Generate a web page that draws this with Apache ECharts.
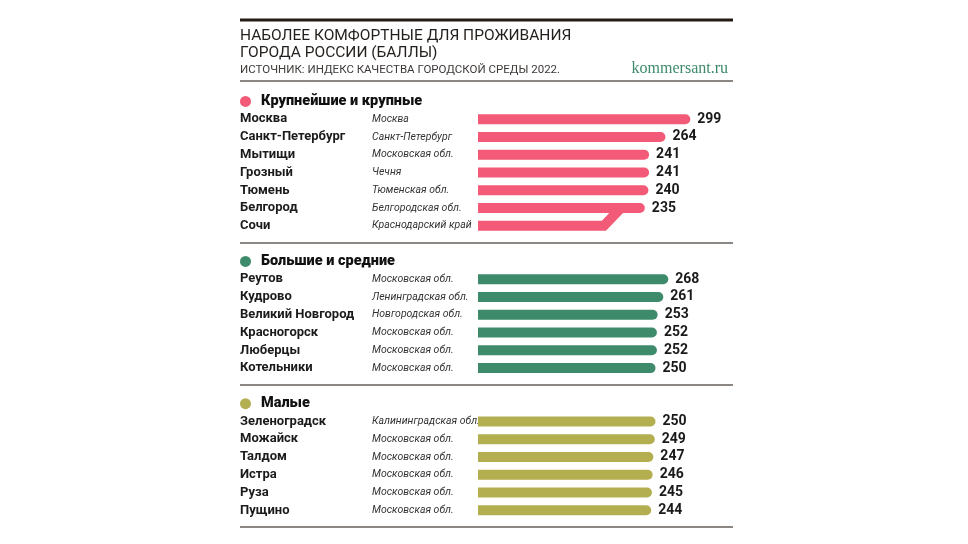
<!DOCTYPE html>
<html>
<head>
<meta charset="utf-8">
<script src="https://cdn.jsdelivr.net/npm/echarts@6/dist/echarts.min.js"></script>
<style>
  html, body { margin: 0; padding: 0; background: #fff; }
  #chart { width: 968px; height: 544px; }
</style>
</head>
<body>
<div id="chart"></div>
<script>
// группы городов
var groups = ['Крупнейшие и крупные', 'Большие и средние', 'Малые'];
var groupColors = ['#f25a77', '#3e8b6c', '#b3ae50'];

var cities1 = ['Москва', 'Санкт-Петербург', 'Мытищи', 'Грозный', 'Тюмень', 'Белгород', 'Сочи'];
var regions1 = ['Москва', 'Санкт-Петербург', 'Московская обл.', 'Чечня', 'Тюменская обл.', 'Белгородская обл.', 'Краснодарский край'];
var values1 = [299, 264, 241, 241, 240, 235, 235];

var cities2 = ['Реутов', 'Кудрово', 'Великий Новгород', 'Красногорск', 'Люберцы', 'Котельники'];
var regions2 = ['Московская обл.', 'Ленинградская обл.', 'Новгородская обл.', 'Московская обл.', 'Московская обл.', 'Московская обл.'];
var values2 = [268, 261, 253, 252, 252, 250];

var cities3 = ['Зеленоградск', 'Можайск', 'Талдом', 'Истра', 'Руза', 'Пущино'];
var regions3 = ['Калининградская обл.', 'Московская обл.', 'Московская обл.', 'Московская обл.', 'Московская обл.', 'Московская обл.'];
var values3 = [250, 249, 247, 246, 245, 244];

// Сочи делит место с Белгородом: полоса сливается с соседней
var joinedCity = 'Сочи';

var cities = [cities1, cities2, cities3];
var regions = [regions1, regions2, regions3];
var values = [values1, values2, values3];

var rows = [];
groups.forEach(function (g, gi) {
    rows.push({key: 'h' + gi, label: '{dot' + gi + '|}{h|' + g + '}'});
    cities[gi].forEach(function (c, i) {
        rows.push({
            key: c,
            label: '{c|' + c + '}{r|' + regions[gi][i] + '}',
            value: values[gi][i],
            color: groupColors[gi]
        });
    });
    rows.push({key: 'sep' + gi, label: ''});
});

var keys = rows.map(function (r) { return r.key; });

var barData = rows.map(function (r) {
    if (r.value === undefined || r.key === joinedCity) return '-';
    return {value: r.value, itemStyle: {color: r.color}};
});

var joinIdx = keys.indexOf(joinedCity);
var joinData = [[rows[joinIdx].value, joinIdx, joinIdx - 1]];

var rich = {
    c: {fontFamily: 'Roboto', fontWeight: 'bold', fontSize: 13, color: '#1b1b1b', width: 132},
    r: {fontFamily: 'Roboto', fontStyle: 'italic', fontSize: 10.5, color: '#333'},
    h: {fontFamily: 'Roboto', fontWeight: 900, fontSize: 14.5, color: '#111', padding: [0, 0, 0, 10]}
};
groupColors.forEach(function (col, gi) {
    rich['dot' + gi] = {width: 11, height: 11, borderRadius: 5.5, backgroundColor: col};
});

var option = {
    animation: false,
    title: [
        {
            text: 'НАБОЛЕЕ КОМФОРТНЫЕ ДЛЯ ПРОЖИВАНИЯ\nГОРОДА РОССИИ (БАЛЛЫ)',
            left: 240, top: 28, padding: 0,
            textStyle: {fontFamily: 'Roboto', fontSize: 15.5, fontWeight: 'normal', lineHeight: 17, color: '#231f1c'}
        },
        {
            text: 'ИСТОЧНИК: ИНДЕКС КАЧЕСТВА ГОРОДСКОЙ СРЕДЫ 2022.',
            left: 240, top: 63, padding: 0,
            textStyle: {fontFamily: 'Roboto', fontSize: 11.5, fontWeight: 'normal', lineHeight: 14, color: '#3d3a38'}
        },
        {
            text: 'kommersant.ru',
            right: 240, top: 60, padding: 0,
            textStyle: {fontFamily: '"Liberation Serif", serif', fontSize: 16, fontWeight: 'normal', lineHeight: 18, color: '#3c8a6b'}
        }
    ],
    grid: {left: 478, right: 234.4, top: 92.5, bottom: 7, containLabel: false},
    xAxis: {type: 'value', min: 0, max: 360, show: false},
    yAxis: {
        type: 'category',
        inverse: true,
        data: keys,
        axisLine: {show: false},
        axisTick: {show: false},
        splitLine: {show: false},
        axisLabel: {
            interval: 0,
            align: 'left',
            margin: 238,
            formatter: function (v, i) { return rows[i].label; },
            rich: rich
        }
    },
    series: [
        {
            type: 'bar',
            data: barData,
            barWidth: 10,
            itemStyle: {borderRadius: [0, 5, 5, 0]},
            label: {
                show: true,
                position: 'right',
                distance: 7,
                fontFamily: 'Roboto',
                fontWeight: 'bold',
                fontSize: 14,
                color: '#1a1a1a'
            }
        },
        {
            type: 'custom',
            data: joinData,
            encode: {x: 0, y: 1},
            renderItem: function (params, api) {
                var start = api.coord([0, api.value(1)]);
                var end = api.coord([api.value(0), api.value(1)]);
                var link = api.coord([api.value(0), api.value(2)]);
                return {
                    type: 'polyline',
                    shape: {
                        points: [
                            [start[0], start[1]],
                            [end[0] - 41, start[1]],
                            [end[0] - 24, link[1]],
                            [link[0] - 10, link[1]]
                        ]
                    },
                    style: {stroke: groupColors[0], lineWidth: 10, fill: null, lineJoin: 'miter', lineCap: 'butt'}
                };
            }
        }
    ]
};

var chart = echarts.init(document.getElementById('chart'));
chart.setOption(option);

// линии-разделители
var lines = [
    {type: 'line', shape: {x1: 240, y1: 20, x2: 733, y2: 20}, style: {stroke: '#231a14', lineWidth: 3}},
    {type: 'line', shape: {x1: 240, y1: 81, x2: 733, y2: 81}, style: {stroke: '#8c8782', lineWidth: 2}}
];
['sep0', 'sep1', 'sep2'].forEach(function (k) {
    var y = Math.round(chart.convertToPixel({yAxisIndex: 0}, k)) - 1;
    lines.push({type: 'line', shape: {x1: 240, y1: y, x2: 733, y2: y}, style: {stroke: '#8c8782', lineWidth: 2}});
});
chart.setOption({graphic: lines});
</script>
</body>
</html>
